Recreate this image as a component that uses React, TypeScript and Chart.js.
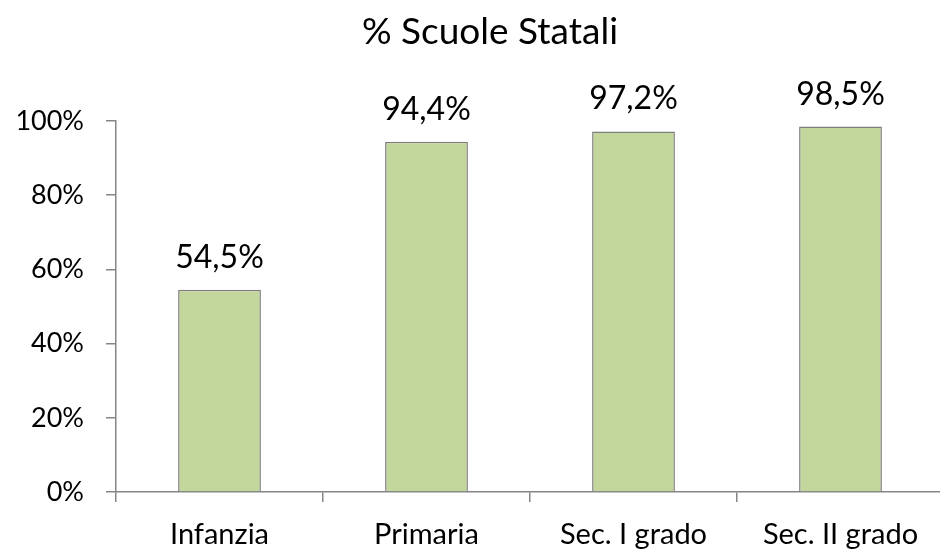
import React, { useEffect, useRef } from "react";
import { Chart, registerables } from "chart.js";

Chart.register(...registerables);

const categories = ["Infanzia", "Primaria", "Sec. I grado", "Sec. II grado"];
const values = [54.5, 94.4, 97.2, 98.5];
const valueLabels = ["54,5%", "94,4%", "97,2%", "98,5%"];
const yTicks = [0, 20, 40, 60, 80, 100];
const title = "% Scuole Statali";

const FONT = "Lato";

const labelPlugin = {
  id: "valueLabels",
  afterDatasetsDraw(chart: any) {
    const ctx = chart.ctx;
    const meta = chart.getDatasetMeta(0);
    ctx.save();
    ctx.font = `32px ${FONT}`;
    ctx.fillStyle = "#000";
    ctx.textAlign = "center";
    ctx.textBaseline = "alphabetic";
    meta.data.forEach((bar: any, i: number) => {
      ctx.fillText(valueLabels[i], bar.x, bar.y - 22);
    });
    ctx.restore();
  },
};

const titlePlugin = {
  id: "customTitle",
  afterDraw(chart: any) {
    const ctx = chart.ctx;
    ctx.save();
    ctx.font = `37px ${FONT}`;
    ctx.fillStyle = "#000";
    ctx.textAlign = "center";
    ctx.textBaseline = "alphabetic";
    ctx.fillText(title, 490, 44);
    ctx.restore();
  },
};

export default function App() {
  const ref = useRef<HTMLCanvasElement>(null);
  useEffect(() => {
    document.body.style.margin = "0";
    const chart = new Chart(ref.current!, {
      type: "bar",
      data: {
        labels: categories,
        datasets: [
          {
            data: values,
            backgroundColor: "#C3D69B",
            borderColor: "#7F7F7F",
            borderWidth: 1.5,
            categoryPercentage: 1,
            barPercentage: 0.4,
          },
        ],
      },
      options: {
        animation: false,
        responsive: false,
        devicePixelRatio: 1,
        layout: { padding: { top: 121, right: 4, left: 0, bottom: 0 } },
        plugins: { legend: { display: false }, title: { display: false }, tooltip: { enabled: false } },
        scales: {
          x: {
            grid: { display: true, drawOnChartArea: false, drawTicks: true, tickLength: 10, color: "#868686", lineWidth: 1.5, offset: true },
            border: { display: true, color: "#868686", width: 1.5 },
            ticks: { color: "#000", font: { family: FONT, size: 29 }, padding: 15, maxRotation: 0 },
            afterFit: (s: any) => { s.height = 57; },
          },
          y: {
            min: 0,
            max: 100,
            afterBuildTicks: (s: any) => { s.ticks = yTicks.map((v) => ({ value: v })); },
            grid: { display: true, drawOnChartArea: false, drawTicks: true, tickLength: 10, color: "#868686", lineWidth: 1.5 },
            border: { display: true, color: "#868686", width: 1.5 },
            ticks: { color: "#000", font: { family: FONT, size: 27 }, padding: 22, callback: (v: any) => v + "%" },
            afterFit: (s: any) => { s.width = 116; },
          },
        },
      },
      plugins: [labelPlugin, titlePlugin],
    });
    return () => chart.destroy();
  }, []);
  return (
    <div style={{ width: 940, height: 549, overflow: "hidden", background: "#fff" }}>
      <canvas ref={ref} width={948} height={549} style={{ display: "block" }} />
    </div>
  );
}
